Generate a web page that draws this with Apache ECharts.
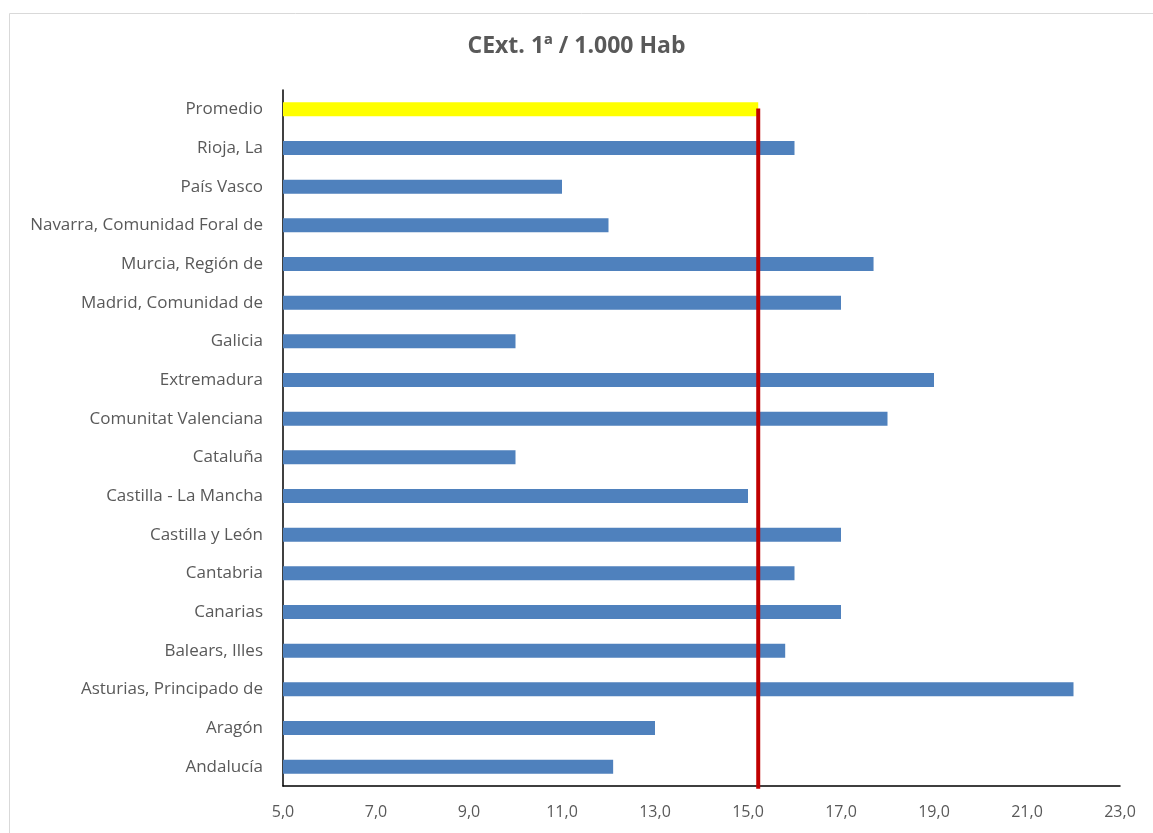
<!DOCTYPE html>
<html>
<head>
<meta charset="utf-8">
<script src="https://cdn.jsdelivr.net/npm/echarts@6/dist/echarts.min.js"></script>
<style>
  html, body { margin: 0; padding: 0; background: #fff; overflow: hidden; }
  #chart { width: 1153px; height: 860px; }
</style>
</head>
<body>
<div id="chart"></div>
<script>
// categories, bottom to top (ECharts category axis starts at the bottom)
const regions = [
	'Andalucía', 'Aragón', 'Asturias, Principado de', 'Balears, Illes', 'Canarias',
	'Cantabria', 'Castilla y León', 'Castilla - La Mancha', 'Cataluña',
	'Comunitat Valenciana', 'Extremadura', 'Galicia', 'Madrid, Comunidad de',
	'Murcia, Región de', 'Navarra, Comunidad Foral de', 'País Vasco', 'Rioja, La',
];
const values = [12.1, 13.0, 22.0, 15.8, 17.0, 16.0, 17.0, 15.0, 10.0, 18.0, 19.0, 10.0, 17.0, 17.7, 12.0, 11.0, 16.0];
const promedioLabel = 'Promedio';
const promedio = 15.22;
const xTicks = [5, 7, 9, 11, 13, 15, 17, 19, 21, 23];

const chart = echarts.init(document.getElementById('chart'));
const font = '"Open Sans", "Liberation Sans", sans-serif';
const categories = [...regions, promedioLabel];

const barData = values.map((v) => ({ value: v, itemStyle: { color: '#4F81BD' } }));
barData.push({ value: promedio, itemStyle: { color: '#FFFF00' } });

// the container is a bit taller than the window so the x labels are not pushed up
const option = {
	animation: false,
	title: {
		text: 'CExt. 1ª / 1.000 Hab',
		left: 'center',
		top: 30,
		textStyle: { fontFamily: font, fontSize: 23, fontWeight: 'bold', color: '#595959' },
	},
	graphic: [{
		type: 'rect',
		shape: { x: 9.5, y: 13.5, width: 1160, height: 900 },
		style: { fill: 'none', stroke: '#d9d9d9', lineWidth: 1 },
		silent: true,
	}],
	grid: { left: 283, right: 33, top: 90, bottom: 74, outerBoundsMode: 'none' },
	xAxis: {
		type: 'value',
		min: xTicks[0],
		max: xTicks[xTicks.length - 1],
		interval: 2,
		axisLine: { show: true, onZero: false, lineStyle: { color: '#000', width: 1.5 } },
		axisTick: { show: false },
		splitLine: { show: false },
		axisLabel: {
			fontFamily: font, fontSize: 16, color: '#595959', margin: 18,
			formatter: (v) => v.toFixed(1).replace('.', ','),
		},
	},
	yAxis: [{
		type: 'category',
		data: categories,
		axisLine: { show: true, onZero: false, lineStyle: { color: '#000', width: 1.5 } },
		axisTick: { show: false },
		axisLabel: { fontFamily: font, fontSize: 17, color: '#595959', margin: 20 },
	}, {
		type: 'value',
		min: -0.5,
		max: categories.length - 0.5,
		show: false,
	}],
	series: [{
		type: 'bar',
		data: barData,
		barWidth: 14,
	}, {
		type: 'line',
		yAxisIndex: 1,
		data: [[promedio, -0.57], [promedio, categories.length - 0.98]],
		symbol: 'none',
		clip: false,
		lineStyle: { color: '#C00000', width: 4 },
		z: 5,
	}],
};

chart.setOption(option);
</script>
</body>
</html>
